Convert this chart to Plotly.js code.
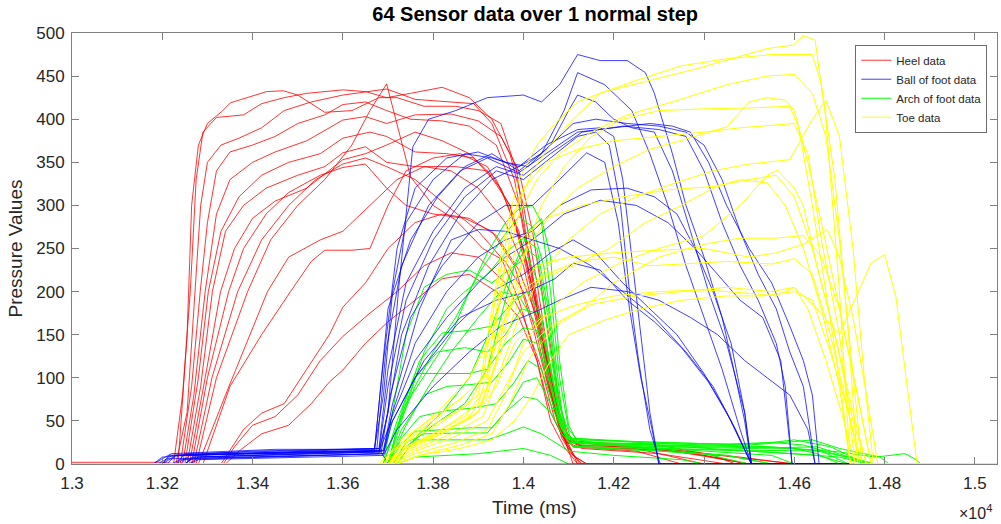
<!DOCTYPE html>
<html>
<head>
<meta charset="utf-8">
<script src="https://cdn.plot.ly/plotly-3.0.1.min.js"></script>
<style>html,body{margin:0;padding:0;background:#fff}#chart{width:1001px;height:524px}</style>
</head>
<body>
<div id="chart"></div>
<script>
// Time (ms) / pressure pairs for each sensor
const heelSensors = [
 [[13000,2],[13200,2],[13235,0],[13255,150],[13265,300],[13280,370],[13300,395],[13332,409],[13351,419],[13431,432],[13468,433],[13500,428],[13560,408],[13620,410],[13680,425],[13720,425],[13780,415],[13850,415],[13900,410],[13950,395],[13985,340],[14010,250],[14040,150],[14070,60],[14090,30],[14110,10],[14140,0],[15050,0]],
 [[13000,0],[13225,0],[13245,80],[13262,200],[13275,330],[13290,385],[13320,402],[13380,405],[13420,418],[13470,425],[13520,430],[13600,434],[13650,432],[13697,425],[13750,430],[13820,437],[13880,425],[13930,400],[13970,360],[14000,300],[14030,210],[14060,110],[14085,40],[14110,25],[14250,20],[14400,10],[14500,0],[15050,0]],
 [[13000,0],[13230,0],[13255,60],[13273,200],[13285,300],[13300,350],[13330,370],[13370,378],[13420,390],[13470,410],[13530,420],[13600,428],[13697,435],[13760,423],[13830,420],[13890,418],[13930,395],[13980,330],[14010,250],[14040,160],[14065,90],[14090,40],[14120,22],[14300,18],[14450,5],[14500,0],[15050,0]],
 [[13000,0],[13240,0],[13265,90],[13284,200],[13300,280],[13320,340],[13350,362],[13400,370],[13450,380],[13500,395],[13560,405],[13600,417],[13650,420],[13697,410],[13750,400],[13820,398],[13880,392],[13940,370],[13990,300],[14020,210],[14050,120],[14075,50],[14100,15],[14130,0],[15050,0]],
 [[13000,0],[13245,0],[13270,80],[13295,200],[13320,290],[13350,330],[13400,350],[13450,362],[13520,375],[13600,399],[13650,403],[13697,395],[13760,405],[13840,406],[13900,398],[13950,380],[13990,340],[14020,270],[14050,170],[14080,70],[14100,30],[14130,20],[14350,15],[14600,0],[15050,0]],
 [[13000,0],[13250,0],[13280,100],[13302,200],[13330,270],[13370,310],[13420,335],[13480,350],[13550,360],[13600,378],[13660,385],[13697,380],[13760,362],[13830,360],[13890,355],[13950,320],[14000,250],[14030,180],[14060,100],[14085,40],[14110,0],[15050,0]],
 [[13000,0],[13255,0],[13285,90],[13311,200],[13340,270],[13380,300],[13430,320],[13500,335],[13560,345],[13600,361],[13650,368],[13697,350],[13760,345],[13850,345],[13920,340],[13970,300],[14010,220],[14040,140],[14070,60],[14095,25],[14130,18],[14300,12],[14450,0],[15050,0]],
 [[13000,0],[13260,0],[13295,100],[13329,200],[13360,250],[13400,285],[13450,305],[13520,320],[13600,353],[13650,360],[13697,370],[13760,385],[13820,375],[13880,360],[13940,330],[13990,270],[14030,180],[14060,100],[14090,35],[14120,0],[15050,0]],
 [[13000,0],[13265,0],[13300,100],[13347,200],[13380,250],[13430,290],[13480,315],[13550,335],[13600,344],[13650,348],[13697,320],[13740,300],[13800,290],[13870,285],[13930,270],[13980,230],[14020,160],[14055,90],[14085,40],[14110,20],[14250,18],[14400,0],[15050,0]],
 [[13000,0],[13270,0],[13310,100],[13367,200],[13420,260],[13480,300],[13540,330],[13600,348],[13650,355],[13697,345],[13760,330],[13830,300],[13900,270],[13950,240],[13990,190],[14030,120],[14060,50],[14090,20],[14120,0],[15050,0]],
 [[13000,0],[13275,0],[13320,100],[13389,200],[13440,260],[13500,300],[13560,330],[13620,370],[13660,410],[13697,441],[13750,333],[13800,300],[13850,283],[13910,250],[13960,235],[14000,200],[14030,150],[14060,80],[14085,30],[14110,10],[14140,0],[15050,0]],
 [[13000,0],[13280,0],[13340,80],[13433,200],[13480,240],[13550,260],[13600,270],[13660,300],[13720,330],[13780,345],[13840,340],[13900,320],[13960,280],[14000,230],[14035,150],[14065,70],[14090,30],[14120,22],[14300,18],[14480,8],[14600,0],[15050,0]],
 [[13000,0],[13290,0],[13350,90],[13420,150],[13484,200],[13530,235],[13560,248],[13620,248],[13660,250],[13700,300],[13740,340],[13800,355],[13860,360],[13920,345],[13970,300],[14010,230],[14040,150],[14070,70],[14095,25],[14125,0],[15050,0]],
 [[13000,0],[13330,0],[13350,16],[13380,40],[13420,59],[13470,70],[13520,110],[13570,150],[13600,182],[13650,210],[13700,250],[13760,280],[13820,290],[13880,285],[13940,265],[13990,225],[14030,170],[14060,100],[14085,40],[14110,20],[14250,15],[14350,0],[15050,0]],
 [[13000,0],[13335,0],[13360,20],[13400,45],[13450,55],[13500,80],[13550,120],[13600,148],[13660,175],[13720,200],[13780,230],[13840,245],[13900,240],[13960,210],[14000,170],[14040,110],[14070,50],[14095,25],[14200,22],[14350,15],[14500,0],[15050,0]],
 [[13000,0],[13340,0],[13370,15],[13420,35],[13480,45],[13530,70],[13570,95],[13600,109],[13650,140],[13700,165],[13760,190],[13820,215],[13880,220],[13940,200],[13990,170],[14030,120],[14060,60],[14090,28],[14150,25],[14300,22],[14420,10],[14470,0],[15050,0]]
];

const archSensors = [
 [[13000,0],[13690,0],[13710,30],[13740,70],[13790,110],[13840,150],[13880,200],[13920,245],[13960,280],[13990,296],[14020,300],[14040,280],[14060,200],[14080,100],[14100,40],[14120,28],[14300,25],[14450,23],[14550,25],[14600,28],[14680,20],[14740,5],[14760,0],[15050,0]],
 [[13000,0],[13700,0],[13720,40],[13760,90],[13800,130],[13850,170],[13900,220],[13950,260],[13990,287],[14020,275],[14045,230],[14065,150],[14085,60],[14105,30],[14250,26],[14400,24],[14500,22],[14600,26],[14640,28],[14700,18],[14790,8],[14810,0],[15050,0]],
 [[13000,0],[13700,0],[13730,50],[13780,130],[13830,180],[13870,200],[13920,220],[13960,245],[14000,262],[14030,250],[14055,180],[14075,90],[14095,35],[14120,20],[14300,18],[14500,15],[14600,12],[14700,8],[14760,0],[15050,0]],
 [[13000,0],[13690,0],[13710,60],[13740,150],[13780,205],[13830,220],[13880,225],[13930,210],[13980,230],[14010,240],[14040,200],[14060,130],[14080,60],[14100,30],[14130,22],[14350,20],[14500,15],[14650,10],[14720,0],[15050,0]],
 [[13000,0],[13700,0],[13730,60],[13770,120],[13820,152],[13880,155],[13930,160],[13980,190],[14010,200],[14040,170],[14065,100],[14085,45],[14110,25],[14300,22],[14500,20],[14600,18],[14650,12],[14700,0],[15050,0]],
 [[13000,0],[13690,0],[13720,50],[13760,105],[13830,105],[13880,105],[13920,110],[13960,140],[14000,158],[14030,155],[14055,110],[14075,60],[14095,30],[14200,22],[14400,15],[14550,10],[14600,0],[15050,0]],
 [[13000,0],[13700,0],[13730,40],[13780,80],[13830,90],[13880,92],[13930,95],[13970,120],[14000,145],[14030,140],[14055,100],[14080,50],[14100,25],[14250,20],[14400,12],[14500,0],[15050,0]],
 [[13000,0],[13700,0],[13725,20],[13760,38],[13830,40],[13880,42],[13930,42],[13960,60],[14000,78],[14030,75],[14060,60],[14085,35],[14110,20],[14300,15],[14450,10],[14550,0],[15050,0]],
 [[13000,0],[13700,0],[13730,15],[13760,28],[13850,28],[13920,28],[13960,35],[14000,43],[14040,35],[14070,25],[14100,15],[14200,10],[14350,5],[14400,0],[15050,0]],
 [[13000,0],[13710,0],[13740,25],[13780,35],[13860,36],[13920,36],[13960,60],[14000,95],[14030,100],[14060,70],[14085,40],[14110,25],[14350,23],[14500,23],[14550,25],[14620,22],[14700,10],[14760,0],[15050,0]],
 [[13000,0],[13720,0],[13760,30],[13820,60],[13880,100],[13930,160],[13970,220],[14005,250],[14030,240],[14055,170],[14075,80],[14095,35],[14120,25],[14400,20],[14600,18],[14700,14],[14780,8],[14820,10],[14845,12],[14870,5],[14880,0],[15050,0]],
 [[13000,0],[13700,0],[13740,45],[13790,90],[13840,130],[13900,170],[13950,200],[13990,195],[14030,160],[14060,90],[14085,40],[14110,20],[14300,15],[14450,10],[14550,0],[15050,0]],
 [[13000,0],[13700,0],[13730,30],[13770,55],[13830,62],[13890,65],[13940,70],[13980,95],[14010,120],[14040,110],[14065,70],[14090,35],[14120,20],[14300,18],[14500,16],[14650,15],[14720,8],[14780,0],[15050,0]],
 [[13000,0],[13720,0],[13760,8],[13900,12],[14000,18],[14060,10],[14100,0],[15050,0]],
 [[13000,0],[13700,0],[13720,40],[13760,100],[13810,130],[13870,135],[13920,130],[13960,150],[13995,180],[14030,175],[14060,110],[14080,55],[14100,30],[14250,25],[14400,22],[14550,20],[14660,15],[14720,0],[15050,0]],
 [[13000,0],[13710,0],[13740,20],[13800,45],[13870,70],[13920,110],[13950,170],[13980,230],[14010,270],[14040,285],[14060,240],[14080,120],[14100,45],[14120,25],[14300,20],[14500,18],[14650,20],[14700,12],[14770,0],[15050,0]]
];

const ballSensors = [
 [[13000,0],[13180,0],[13200,8],[13300,12],[13500,14],[13680,15],[13700,60],[13723,200],[13755,368],[13790,400],[13850,410],[13920,425],[14000,428],[14040,420],[14080,440],[14120,475],[14170,468],[14230,468],[14270,454],[14290,430],[14330,360],[14360,300],[14400,240],[14440,170],[14470,100],[14490,50],[14505,0],[15050,0]],
 [[13000,0],[13200,0],[13230,10],[13400,15],[13670,18],[13690,80],[13710,200],[13740,280],[13800,330],[13870,360],[13930,355],[13990,345],[14040,360],[14090,410],[14120,454],[14180,440],[14240,410],[14280,360],[14320,300],[14360,230],[14400,170],[14440,110],[14480,40],[14505,0],[15050,0]],
 [[13000,0],[13180,0],[13220,12],[13450,17],[13670,17],[13690,120],[13720,250],[13760,320],[13830,355],[13900,362],[13960,350],[14010,345],[14060,370],[14100,410],[14120,428],[14160,420],[14200,400],[14240,390],[14290,385],[14330,340],[14370,270],[14410,200],[14450,140],[14490,60],[14505,0],[15050,0]],
 [[13000,0],[13250,0],[13270,8],[13500,12],[13670,14],[13685,100],[13700,180],[13750,260],[13810,310],[13870,345],[13930,360],[13990,340],[14050,365],[14110,395],[14160,400],[14230,395],[14300,392],[14360,385],[14400,370],[14440,330],[14480,270],[14520,220],[14560,180],[14590,130],[14620,90],[14646,0],[15050,0]],
 [[13000,0],[13200,0],[13220,10],[13600,15],[13675,16],[13695,130],[13730,230],[13790,300],[13860,340],[13920,355],[13990,338],[14050,360],[14120,385],[14200,390],[14280,395],[14330,392],[14370,385],[14410,350],[14450,300],[14500,250],[14550,210],[14590,160],[14620,120],[14640,80],[14655,0],[15050,0]],
 [[13000,0],[13230,0],[13250,12],[13650,18],[13680,18],[13700,110],[13740,210],[13800,270],[13870,320],[13940,345],[14000,335],[14060,360],[14130,385],[14220,392],[14300,388],[14360,380],[14400,340],[14440,280],[14480,230],[14520,190],[14560,140],[14580,90],[14595,0],[15050,0]],
 [[13000,0],[13190,0],[13210,6],[13500,10],[13680,12],[13700,60],[13730,150],[13790,230],[13860,290],[13930,330],[13990,345],[14050,370],[14120,388],[14170,390],[14200,380],[14220,330],[14240,240],[14260,150],[14280,60],[14300,0],[15050,0]],
 [[13000,0],[13240,0],[13260,10],[13680,15],[13700,90],[13740,190],[13800,260],[13870,310],[13940,340],[14000,330],[14060,355],[14120,380],[14160,385],[14190,370],[14215,300],[14235,200],[14255,120],[14280,40],[14303,0],[15050,0]],
 [[13000,0],[13260,0],[13280,8],[13685,14],[13705,80],[13750,170],[13820,230],[13900,280],[13960,300],[14020,300],[14080,330],[14140,361],[14180,350],[14210,280],[14235,180],[14260,100],[14285,40],[14300,0],[15050,0]],
 [[13000,0],[13220,0],[13240,5],[13690,12],[13710,60],[13760,140],[13830,200],[13900,240],[13960,260],[14020,270],[14080,300],[14150,318],[14230,320],[14290,310],[14340,290],[14380,250],[14420,200],[14460,140],[14490,60],[14505,0],[15050,0]],
 [[13000,0],[13210,0],[13230,10],[13690,15],[13705,50],[13760,120],[13830,170],[13900,210],[13960,240],[14020,260],[14090,290],[14170,306],[14250,300],[14320,280],[14380,250],[14430,220],[14480,190],[14530,170],[14570,120],[14595,0],[15050,0]],
 [[13000,0],[13250,0],[13270,8],[13680,14],[13700,40],[13760,100],[13850,160],[13930,200],[14000,220],[14060,245],[14110,260],[14160,245],[14220,210],[14280,180],[14340,150],[14400,105],[14450,60],[14505,0],[15050,0]],
 [[13000,0],[13230,0],[13250,6],[13690,12],[13710,50],[13780,120],[13860,170],[13940,190],[14010,200],[14070,215],[14110,233],[14170,225],[14230,190],[14290,165],[14350,135],[14410,95],[14460,50],[14505,0],[15050,0]],
 [[13000,0],[13260,0],[13280,5],[13690,10],[13720,40],[13800,90],[13880,130],[13950,160],[14020,175],[14080,190],[14150,205],[14230,200],[14300,190],[14370,170],[14430,150],[14490,120],[14540,100],[14590,80],[14630,40],[14646,0],[15050,0]],
 [[13000,0],[13200,0],[13215,10],[13690,16],[13710,70],[13770,180],[13840,260],[13900,272],[13960,270],[14020,260],[14080,250],[14150,230],[14220,200],[14290,170],[14360,130],[14420,90],[14470,40],[14505,0],[15050,0]],
 [[13000,0],[13250,0],[13270,10],[13600,16],[13680,18],[13700,0],[15050,0]]
];

const toeSensors = [
 [[13000,0],[13680,0],[13720,20],[13780,40],[13850,60],[13900,80],[13930,180],[13960,270],[13990,330],[14030,370],[14070,395],[14120,420],[14180,432],[14280,445],[14380,458],[14460,470],[14540,482],[14598,486],[14620,497],[14646,492],[14670,400],[14700,200],[14724,0],[15050,0]],
 [[13000,0],[13690,0],[13730,18],[13800,35],[13870,55],[13920,90],[13950,200],[13980,290],[14020,340],[14060,370],[14110,400],[14170,430],[14250,445],[14350,462],[14450,470],[14550,475],[14640,475],[14660,440],[14690,330],[14720,150],[14740,0],[15050,0]],
 [[13000,0],[13700,0],[13740,25],[13810,45],[13880,70],[13920,110],[13950,210],[13990,290],[14030,330],[14080,360],[14150,385],[14230,405],[14330,420],[14450,440],[14540,450],[14600,452],[14640,430],[14670,380],[14700,260],[14730,100],[14750,0],[15050,0]],
 [[13000,0],[13700,0],[13740,15],[13800,30],[13870,50],[13920,80],[13960,160],[14000,240],[14040,300],[14090,345],[14150,380],[14220,400],[14300,410],[14400,412],[14500,413],[14590,415],[14610,390],[14640,300],[14670,200],[14700,100],[14724,0],[15050,0]],
 [[13000,0],[13710,0],[13750,20],[13830,40],[13900,60],[13940,120],[13970,200],[14010,250],[14060,290],[14120,320],[14200,345],[14280,365],[14380,380],[14450,391],[14500,420],[14540,425],[14580,422],[14600,410],[14630,350],[14660,280],[14700,180],[14740,80],[14770,0],[15050,0]],
 [[13000,0],[13700,0],[13750,15],[13840,35],[13910,55],[13950,110],[13990,170],[14040,220],[14100,260],[14170,290],[14250,310],[14330,325],[14420,340],[14500,348],[14590,353],[14640,400],[14670,422],[14700,380],[14730,250],[14755,100],[14775,0],[15050,0]],
 [[13000,0],[13710,0],[13760,12],[13850,25],[13920,40],[13960,80],[14000,140],[14060,180],[14130,210],[14220,235],[14300,250],[14400,265],[14480,300],[14540,335],[14563,341],[14600,320],[14620,300],[14650,230],[14690,150],[14730,60],[14760,0],[15050,0]],
 [[13000,0],[13720,0],[13770,10],[13860,22],[13930,35],[13970,70],[14010,120],[14070,160],[14150,185],[14250,195],[14350,200],[14450,205],[14550,200],[14600,205],[14650,180],[14700,150],[14724,179],[14770,233],[14800,243],[14825,194],[14850,90],[14872,0],[15050,0]],
 [[13000,0],[13700,0],[13740,20],[13820,40],[13900,70],[13940,140],[13980,200],[14030,230],[14100,240],[14200,245],[14300,248],[14400,250],[14500,240],[14560,245],[14620,255],[14673,272],[14700,240],[14730,170],[14760,80],[14785,0],[15050,0]],
 [[13000,0],[13690,0],[13730,25],[13800,50],[13870,80],[13920,105],[13950,160],[13990,200],[14050,220],[14120,235],[14200,240],[14280,230],[14350,232],[14450,235],[14550,232],[14600,238],[14640,220],[14680,150],[14720,60],[14745,0],[15050,0]],
 [[13000,0],[13700,0],[13740,20],[13810,35],[13890,55],[13940,90],[13980,140],[14040,170],[14120,185],[14200,195],[14300,200],[14400,202],[14500,198],[14560,195],[14600,205],[14630,180],[14670,120],[14710,50],[14735,0],[15050,0]],
 [[13000,0],[13700,0],[13740,30],[13810,60],[13880,100],[13930,150],[13960,210],[13990,260],[14050,285],[14130,300],[14220,310],[14320,318],[14420,322],[14500,330],[14560,335],[14600,310],[14640,250],[14690,150],[14730,50],[14760,0],[15050,0]],
 [[13000,0],[13710,0],[13760,15],[13840,30],[13920,50],[13960,90],[14000,130],[14060,160],[14130,180],[14200,210],[14300,240],[14400,255],[14480,262],[14560,262],[14620,265],[14660,240],[14700,180],[14740,80],[14770,0],[15050,0]],
 [[13000,0],[13690,0],[13720,25],[13790,50],[13860,75],[13910,100],[13940,200],[13970,280],[14000,320],[14050,350],[14120,365],[14200,375],[14300,380],[14400,385],[14480,390],[14560,393],[14600,395],[14630,360],[14660,260],[14700,150],[14735,0],[15050,0]],
 [[13000,0],[13720,0],[13770,10],[13860,18],[13930,28],[13980,50],[14020,80],[14060,120],[14100,150],[14180,167],[14260,180],[14350,190],[14450,195],[14530,195],[14600,200],[14640,190],[14680,130],[14720,60],[14750,0],[15050,0]],
 [[13000,0],[13700,0],[13740,18],[13820,35],[13900,60],[13950,130],[13990,190],[14040,215],[14110,230],[14190,250],[14270,280],[14350,300],[14420,320],[14480,330],[14540,326],[14580,300],[14620,250],[14660,180],[14700,90],[14724,0],[15050,0]]
];

const groupNames = ['Heel data', 'Ball of foot data', 'Arch of foot data', 'Toe data'];
const groupColors = ['rgba(255,0,0,0.8)', 'rgba(0,0,255,0.75)', '#00ff00', '#ffff00'];
const xTickVals = [13000, 13200, 13400, 13600, 13800, 14000, 14200, 14400, 14600, 14800, 15000];
const xTickText = ['1.3', '1.32', '1.34', '1.36', '1.38', '1.4', '1.42', '1.44', '1.46', '1.48', '1.5'];
const yTickVals = [0, 50, 100, 150, 200, 250, 300, 350, 400, 450, 500];

const groups = [
  {data: heelSensors, gi: 0},
  {data: archSensors, gi: 2},
  {data: ballSensors, gi: 1},
  {data: toeSensors, gi: 3}
];
const traces = [];
groups.forEach(g => {
  g.data.forEach((s, i) => {
    traces.push({
      type: 'scatter', mode: 'lines',
      x: s.map(p => p[0]), y: s.map(p => p[1]),
      line: {color: groupColors[g.gi], width: 1},
      name: groupNames[g.gi],
      legendgroup: groupNames[g.gi],
      legendrank: g.gi + 1,
      showlegend: i === 0,
      hoverinfo: 'skip'
    });
  });
});

const font = 'Liberation Sans, Arial, Helvetica, sans-serif';
const axisCommon = {
  showline: true, linecolor: '#808080', linewidth: 1, mirror: 'ticks',
  ticks: 'inside', ticklen: 7, tickcolor: '#808080', tickwidth: 1,
  showgrid: false, zeroline: false,
  tickfont: {family: font, size: 17, color: '#262626'}
};
const layout = {
  width: 1001, height: 524,
  margin: {l: 72, r: 4, t: 33, b: 60},
  paper_bgcolor: '#ffffff', plot_bgcolor: '#ffffff',
  title: {text: '<b>64 Sensor data over 1 normal step</b>', font: {family: font, size: 20, color: '#000000'},
          x: 0.5346, xanchor: 'center', y: 0.973, yanchor: 'middle'},
  xaxis: Object.assign({}, axisCommon, {
    range: [13000, 15049], tickvals: xTickVals, ticktext: xTickText, ticklabelstandoff: 4,
    title: {text: 'Time (ms)', font: {family: font, size: 19, color: '#262626'}, standoff: 8}
  }),
  yaxis: Object.assign({}, axisCommon, {
    range: [0, 500], tickvals: yTickVals, ticklabelstandoff: 3,
    title: {text: 'Pressure Values', font: {family: font, size: 19, color: '#262626'}, standoff: 8}
  }),
  showlegend: true,
  legend: {
    x: 0.9895, xanchor: 'right', y: 0.9728, yanchor: 'top',
    bgcolor: '#ffffff', bordercolor: '#6b6b6b', borderwidth: 1,
    font: {family: font, size: 11.5, color: '#262626'},
    traceorder: 'normal', itemwidth: 30
  },
  annotations: [{
    xref: 'paper', yref: 'paper', x: 0.9765, y: -0.111, xanchor: 'center', yanchor: 'middle',
    text: '×10<sup>4</sup>', showarrow: false, font: {family: font, size: 16, color: '#262626'}
  }]
};
Plotly.newPlot('chart', traces, layout, {staticPlot: true, displayModeBar: false});
</script>
</body>
</html>
